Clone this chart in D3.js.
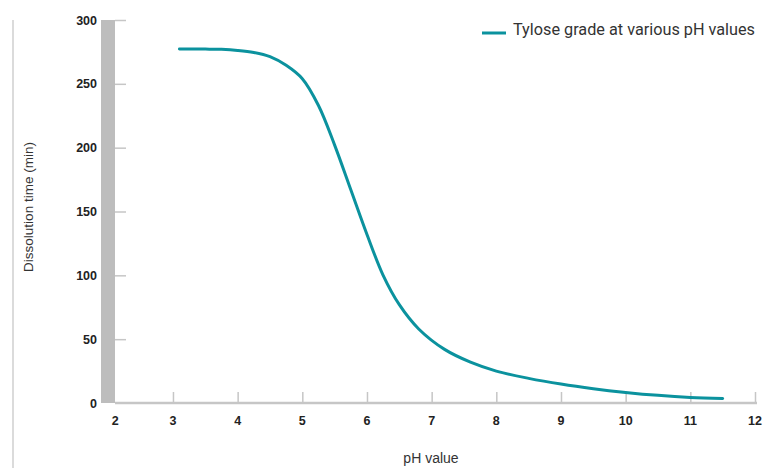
<!DOCTYPE html>
<html><head><meta charset="utf-8">
<script src="https://cdn.jsdelivr.net/npm/d3@7"></script>
<style>body{margin:0;background:#fff}svg{display:block}</style>
</head><body>
<svg id="c" width="764" height="468"></svg>
<script>
const phValues = [3.1, 3.5, 3.75, 4.0, 4.25, 4.5, 4.75, 5.0, 5.25, 5.5, 5.75, 6.0, 6.25, 6.5, 6.8, 7.2, 7.6, 8.0, 8.5, 9.0, 9.5, 10.0, 10.5, 11.0, 11.5];
const dissolutionTime = [277.3, 277.2, 277, 276.2, 274.6, 271.3, 264.5, 254, 233, 202, 167, 132, 100, 77, 58, 42, 32, 25, 19.3, 14.8, 11.2, 8.3, 6, 4.4, 3.6];
const xTicks = [2, 3, 4, 5, 6, 7, 8, 9, 10, 11, 12];
const yTicks = [0, 50, 100, 150, 200, 250, 300];
const seriesName = "Tylose grade at various pH values";
const xTitle = "pH value";
const yTitle = "Dissolution time (min)";

const svg = d3.select("#c");
const x = d3.scaleLinear().domain([2, 12]).range([108.3, 755]);
const y = d3.scaleLinear().domain([0, 300]).range([403, 20]);
const grey = "#c6c6c6";
const font = "'Liberation Sans', Arial, Helvetica, sans-serif";

// left frame line
svg.append("line").attr("x1", 13).attr("x2", 13).attr("y1", 20).attr("y2", 468)
  .attr("stroke", "#cfcfcf").attr("stroke-width", 1.5);

// y axis grey bar
svg.append("rect").attr("x", 101).attr("y", y(300)).attr("width", 14).attr("height", y(0) - y(300))
  .attr("fill", "#bdbdbd");

// y ticks
const yAxis = d3.axisRight(y).tickValues(yTicks.filter(d => d > 0)).tickSize(11).tickFormat("");
const gy = svg.append("g").attr("transform", "translate(115,0)").call(yAxis);
gy.select(".domain").remove();
gy.selectAll(".tick line").attr("stroke", grey).attr("stroke-width", 1.5);

svg.append("g").selectAll("text").data(yTicks).join("text")
  .attr("x", 97).attr("y", d => y(d) + 4.5).attr("text-anchor", "end")
  .attr("font-family", font).attr("font-weight", "bold").attr("font-size", 12.5).attr("fill", "#222")
  .text(d => d);

// x axis
svg.append("line").attr("x1", 115).attr("x2", 757).attr("y1", 403).attr("y2", 403)
  .attr("stroke", grey).attr("stroke-width", 2.5);
const xAxis = d3.axisTop(x).tickValues(xTicks.filter(d => d > 2)).tickSize(11).tickFormat("");
const gx = svg.append("g").attr("transform", "translate(0,403)").call(xAxis);
gx.select(".domain").remove();
gx.selectAll(".tick line").attr("stroke", grey).attr("stroke-width", 1.5);

svg.append("g").selectAll("text").data(xTicks).join("text")
  .attr("x", d => x(d) + (d === 2 ? 7 : 0)).attr("y", 425).attr("text-anchor", "middle")
  .attr("font-family", font).attr("font-weight", "bold").attr("font-size", 12.5).attr("fill", "#222")
  .text(d => d);

// titles
svg.append("text").attr("x", 431).attr("y", 463).attr("text-anchor", "middle")
  .attr("font-family", font).attr("font-size", 14).attr("fill", "#333").text(xTitle);
svg.append("text").attr("transform", "translate(33,207) rotate(-90)").attr("text-anchor", "middle")
  .attr("font-family", font).attr("font-size", 13.5).attr("fill", "#333").text(yTitle);

// curve
const data = phValues.map((p, i) => [p, dissolutionTime[i]]);
const teal = "#0b929e";
svg.append("path").datum(data)
  .attr("d", d3.line().x(d => x(d[0])).y(d => y(d[1])).curve(d3.curveCatmullRom.alpha(0.5)))
  .attr("fill", "none").attr("stroke", teal).attr("stroke-width", 3).attr("stroke-linecap", "round");

// legend
svg.append("line").attr("x1", 482).attr("x2", 506).attr("y1", 33).attr("y2", 33)
  .attr("stroke", teal).attr("stroke-width", 3);
svg.append("text").attr("x", 513).attr("y", 34.5)
  .attr("font-family", "Roboto, 'Liberation Sans', sans-serif").attr("font-size", 16.5).attr("fill", "#333")
  .attr("textLength", 242).attr("lengthAdjust", "spacingAndGlyphs").text(seriesName);
</script>
</body></html>
